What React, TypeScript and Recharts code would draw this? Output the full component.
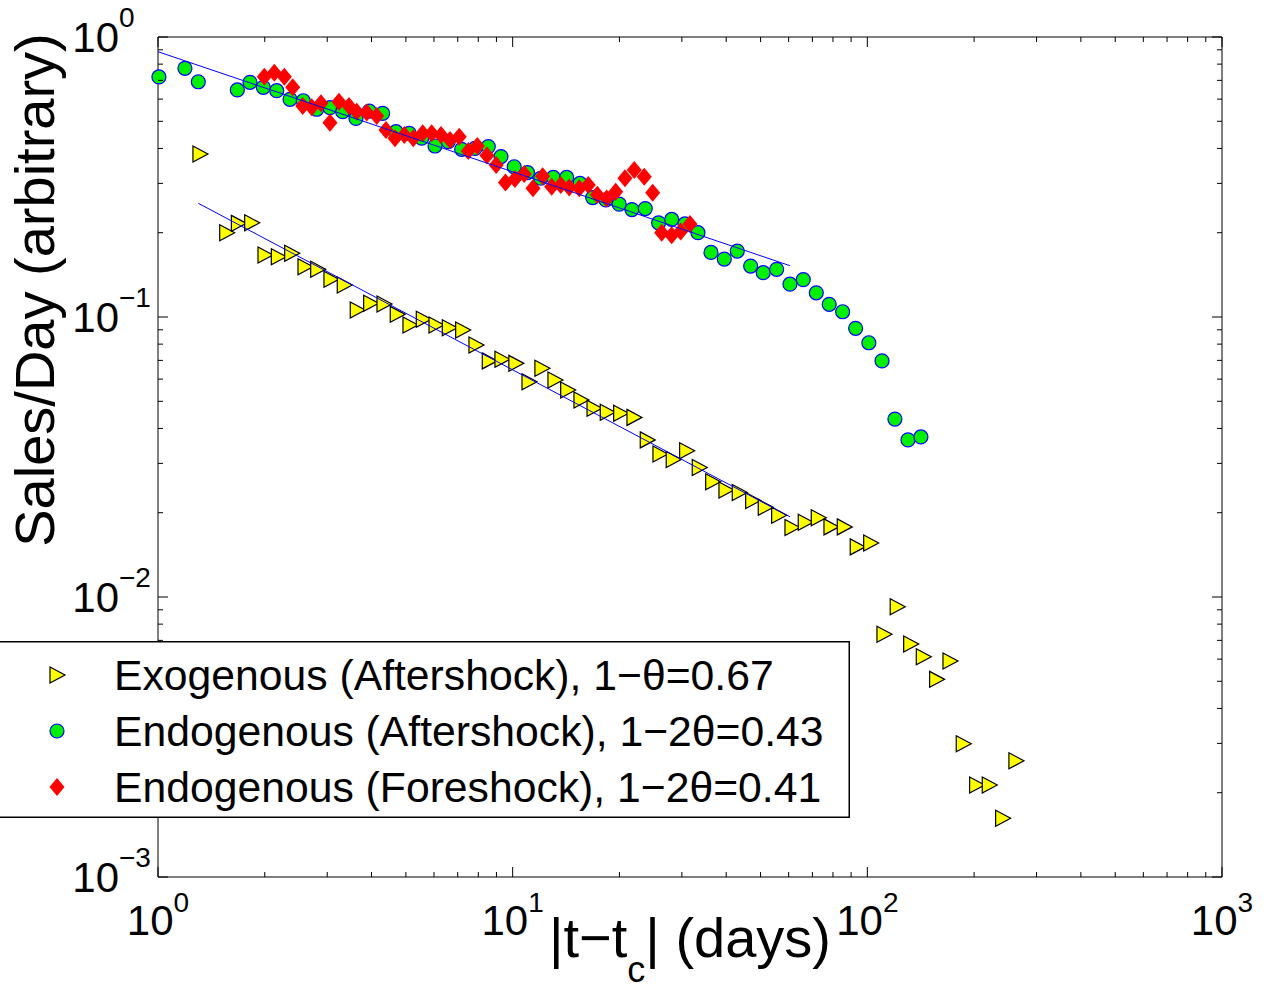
import { ScatterChart, Scatter, XAxis, YAxis, ReferenceArea, Legend } from 'recharts'

// Exogenous (aftershock) – yellow triangles
const exoDays = [
  1.313, 1.562, 1.685, 1.837, 2.003, 2.184, 2.382, 2.597, 2.82, 3.074, 3.351, 3.646, 3.978, 4.337, 4.727, 5.134,
  5.598, 6.079, 6.627, 7.228, 7.88, 8.591, 9.328, 10.21, 11.12, 12.09, 13.16, 14.29, 15.58, 16.96, 18.48, 20.16,
  21.98, 23.96, 26.02, 28.36, 30.94, 33.58, 36.64, 39.94, 43.54, 47.5, 51.55, 56.23, 61.31, 66.83, 72.72, 78.98,
  86.09, 93.65, 102.2, 111.4, 121.4, 132.5, 143.8, 156.8, 171.0, 186.4, 203.3, 220.7, 240.7, 262.4,
]
const exoSales = [
  0.382, 0.2, 0.216, 0.217, 0.1665, 0.1642, 0.1689, 0.1512, 0.148, 0.1363, 0.1301, 0.1059, 0.1119, 0.1112, 0.1022,
  0.0936, 0.0981, 0.0936, 0.0916, 0.0899, 0.0794, 0.0697, 0.0706, 0.0683, 0.0587, 0.0656, 0.0596, 0.0549, 0.0505,
  0.0472, 0.0457, 0.0453, 0.0438, 0.0364, 0.0324, 0.031, 0.0333, 0.029, 0.0258, 0.0241, 0.0236, 0.0221, 0.0209,
  0.0196, 0.0177, 0.0185, 0.0192, 0.0178, 0.0178, 0.0151, 0.0156, 0.00736, 0.00923, 0.00679, 0.00612, 0.00508,
  0.00591, 0.00299, 0.00213, 0.00213, 0.00162, 0.0026,
]

// Endogenous (aftershock) – green circles
const endoAfterDays = [
  1.006, 1.191, 1.299, 1.674, 1.817, 1.981, 2.161, 2.356, 2.568, 2.802, 3.054, 3.317, 3.615, 3.942, 4.3, 4.688,
  5.11, 5.54, 6.04, 6.583, 7.18, 7.831, 8.536, 9.269, 10.1, 11.01, 12.0, 13.02, 14.2, 15.48, 16.81, 18.32, 19.97,
  21.69, 23.65, 25.79, 28.08, 30.6, 33.3, 36.24, 39.51, 42.98, 46.88, 50.87, 55.5, 60.51, 65.98, 71.79, 78.08,
  85.19, 92.68, 101.0, 110.0, 119.6, 130.2, 141.6,
]
const endoAfterSales = [
  0.72, 0.773, 0.692, 0.647, 0.689, 0.661, 0.643, 0.599, 0.592, 0.552, 0.559, 0.541, 0.512, 0.544, 0.534, 0.459,
  0.453, 0.435, 0.408, 0.423, 0.397, 0.4, 0.406, 0.374, 0.344, 0.328, 0.313, 0.315, 0.315, 0.3, 0.267, 0.262,
  0.253, 0.242, 0.244, 0.217, 0.223, 0.215, 0.2, 0.17, 0.161, 0.172, 0.152, 0.144, 0.148, 0.131, 0.136, 0.122,
  0.111, 0.1044, 0.0911, 0.0809, 0.0697, 0.0432, 0.0364, 0.0373,
]

// Endogenous (foreshock) – red diamonds
const endoForeDays = [
  1.994, 2.128, 2.271, 2.398, 2.559, 2.713, 2.881, 3.054, 3.237, 3.455, 3.633, 3.877, 4.137, 4.393, 4.658, 4.948,
  5.246, 5.576, 5.91, 6.28, 6.658, 7.069, 7.495, 7.949, 8.463, 8.984, 9.543, 10.15, 10.78, 11.41, 12.15, 12.88,
  13.66, 14.44, 15.41, 16.34, 17.32, 18.41, 19.52, 20.73, 22.02, 23.5, 24.82, 26.31, 28.07, 29.77, 31.62,
]
const endoForeSales = [
  0.721, 0.746, 0.721, 0.661, 0.567, 0.561, 0.58, 0.494, 0.587, 0.567, 0.541, 0.537, 0.522, 0.465, 0.435, 0.447,
  0.435, 0.453, 0.453, 0.447, 0.429, 0.44, 0.392, 0.408, 0.377, 0.349, 0.302, 0.311, 0.324, 0.288, 0.318, 0.292,
  0.296, 0.29, 0.288, 0.296, 0.273, 0.265, 0.28, 0.313, 0.335, 0.317, 0.278, 0.2, 0.196, 0.202, 0.215,
]

// power-law fits (end points)
const fitEndoDays = [1.0, 60.5]
const fitEndoSales = [0.886, 0.1525]
const fitExoDays = [1.299, 60.5]
const fitExoSales = [0.2547, 0.01935]

const xTicks = [
  1, 2, 3, 4, 5, 6, 7, 8, 9, 10, 20, 30, 40, 50, 60, 70, 80, 90, 100, 200, 300, 400, 500, 600, 700, 800, 900, 1000,
]
const yTicks = [
  0.001, 0.002, 0.003, 0.004, 0.005, 0.006, 0.007, 0.008, 0.009, 0.01, 0.02, 0.03, 0.04, 0.05, 0.06, 0.07, 0.08,
  0.09, 0.1, 0.2, 0.3, 0.4, 0.5, 0.6, 0.7, 0.8, 0.9, 1,
]
const xMajor = new Map<number, string>([[1, '0'], [10, '1'], [100, '2'], [1000, '3']])
const yMajor = new Map<number, string>([[1, '0'], [0.1, '−1'], [0.01, '−2'], [0.001, '−3']])

const legendItems = [
  { kind: 'tri', label: 'Exogenous (Aftershock), 1−θ=0.67' },
  { kind: 'circ', label: 'Endogenous (Aftershock), 1−2θ=0.43' },
  { kind: 'dia', label: 'Endogenous (Foreshock), 1−2θ=0.41' },
]

const FONT = '"Liberation Sans", Arial, Helvetica, sans-serif'
const PLOT_TOP = 37
const PLOT_BOTTOM = 877
const PLOT_LEFT = 158
const PLOT_RIGHT = 1222

const toPoints = (xs: number[], ys: number[]) => xs.map((x, i) => ({ x, y: ys[i] }))

function marker(kind: string, cx: number, cy: number) {
  if (kind === 'tri') {
    return (
      <polygon
        points={`${cx - 7},${cy - 8} ${cx + 8},${cy} ${cx - 7},${cy + 8}`}
        fill="#ffff00"
        stroke="#000"
        strokeWidth={1.2}
      />
    )
  }
  if (kind === 'circ') {
    return <circle cx={cx} cy={cy} r={7} fill="#00f000" stroke="#0000ff" strokeWidth={1.2} />
  }
  return (
    <polygon
      points={`${cx},${cy - 9} ${cx + 7.5},${cy} ${cx},${cy + 9} ${cx - 7.5},${cy}`}
      fill="#ff0000"
    />
  )
}

function XTick(props: any) {
  const { x, payload } = props
  const exp = xMajor.get(payload.value)
  const len = exp !== undefined ? 10 : 5
  return (
    <g>
      <line x1={x} y1={PLOT_BOTTOM} x2={x} y2={PLOT_BOTTOM - len} stroke="#000" />
      <line x1={x} y1={PLOT_TOP} x2={x} y2={PLOT_TOP + len} stroke="#000" />
      {exp !== undefined && (
        <text x={x} y={PLOT_BOTTOM + 58} textAnchor="middle" fontFamily={FONT} fontSize={42} fill="#000">
          10
          <tspan dy={-23} fontSize={28}>
            {exp}
          </tspan>
        </text>
      )}
    </g>
  )
}

function YTick(props: any) {
  const { y, payload } = props
  const exp = yMajor.get(payload.value)
  const len = exp !== undefined ? 10 : 5
  return (
    <g>
      <line x1={PLOT_LEFT} y1={y} x2={PLOT_LEFT + len} y2={y} stroke="#000" />
      <line x1={PLOT_RIGHT} y1={y} x2={PLOT_RIGHT - len} y2={y} stroke="#000" />
      {exp !== undefined && (
        <g fontFamily={FONT} fill="#000">
          <text x={119} y={y + 15} textAnchor="end" fontSize={42}>
            10
          </text>
          <text x={119} y={y - 10} textAnchor="start" fontSize={28}>
            {exp}
          </text>
        </g>
      )}
    </g>
  )
}

function LegendBox() {
  return (
    <svg width={853} height={177} style={{ display: 'block' }}>
      <rect x={0.75} y={0.75} width={851.5} height={175.5} fill="#fff" stroke="#000" strokeWidth={1.5} />
      {legendItems.map((item, i) => {
        const cy = 34 + i * 56
        return (
          <g key={item.label}>
            {marker(item.kind, 60, cy)}
            <text x={117} y={cy + 15} fontFamily={FONT} fontSize={42.7} fill="#000">
              {item.label}
            </text>
          </g>
        )
      })}
    </svg>
  )
}

export default function App() {
  return (
    <div style={{ position: 'absolute', left: 0, top: 0, background: '#fff' }}>
      <ScatterChart width={1270} height={994} margin={{ top: 37, right: 48, bottom: 0, left: 0 }}>
        <XAxis
          type="number"
          dataKey="x"
          scale="log"
          domain={[1, 1000]}
          ticks={xTicks}
          interval={0}
          height={117}
          axisLine={false}
          tickLine={false}
          tickSize={0}
          tickMargin={0}
          tick={(p: any) => <XTick {...p} />}
          label={{
            content: () => (
              <text x={690} y={957} textAnchor="middle" fontFamily={FONT} fontSize={56} fill="#000">
                |t−t
                <tspan fontSize={36} dy={25}>
                  c
                </tspan>
                <tspan dy={-25}>| (days)</tspan>
              </text>
            ),
          }}
        />
        <YAxis
          type="number"
          dataKey="y"
          scale="log"
          domain={[0.001, 1]}
          ticks={yTicks}
          interval={0}
          width={158}
          axisLine={false}
          tickLine={false}
          tickSize={0}
          tickMargin={0}
          tick={(p: any) => <YTick {...p} />}
          label={{
            content: () => (
              <text
                x={54}
                y={290}
                transform="rotate(-90 54 290)"
                textAnchor="middle"
                fontFamily={FONT}
                fontSize={56}
                fill="#000"
              >
                Sales/Day (arbitrary)
              </text>
            ),
          }}
        />
        <ReferenceArea
          x1={1}
          x2={1000}
          y1={0.001}
          y2={1}
          fill="none"
          stroke="#000"
          strokeWidth={1}
          ifOverflow="visible"
        />
        <Scatter
          data={toPoints(exoDays, exoSales)}
          isAnimationActive={false}
          shape={(p: any) => marker('tri', p.cx, p.cy)}
        />
        <Scatter
          data={toPoints(endoAfterDays, endoAfterSales)}
          isAnimationActive={false}
          shape={(p: any) => marker('circ', p.cx, p.cy)}
        />
        <Scatter
          data={toPoints(endoForeDays, endoForeSales)}
          isAnimationActive={false}
          shape={(p: any) => marker('dia', p.cx, p.cy)}
        />
        <Scatter
          data={toPoints(fitEndoDays, fitEndoSales)}
          isAnimationActive={false}
          line={{ stroke: '#0000ff', strokeWidth: 1 }}
          shape={() => <g />}
          legendType="none"
        />
        <Scatter
          data={toPoints(fitExoDays, fitExoSales)}
          isAnimationActive={false}
          line={{ stroke: '#0000ff', strokeWidth: 1 }}
          shape={() => <g />}
          legendType="none"
        />
        <Legend
          layout="vertical"
          align="center"
          verticalAlign="middle"
          content={() => <LegendBox />}
          wrapperStyle={{ left: -3, top: 641, width: 853, height: 177 }}
        />
      </ScatterChart>
    </div>
  )
}
